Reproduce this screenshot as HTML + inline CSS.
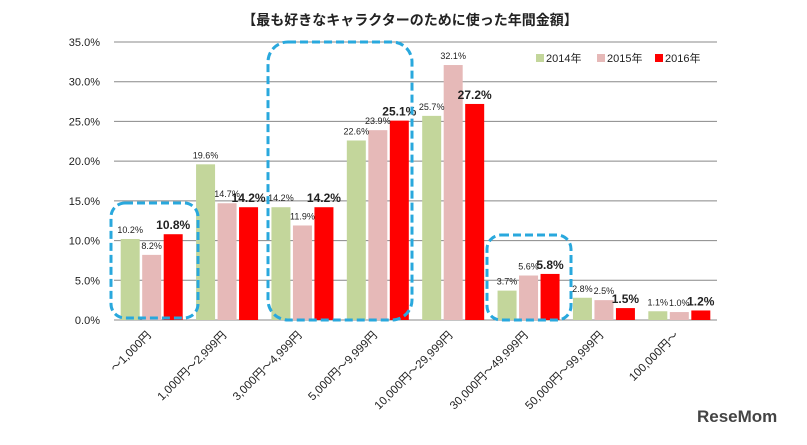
<!DOCTYPE html>
<html><head><meta charset="utf-8"><style>
body{margin:0;background:#fff;width:807px;height:440px;overflow:hidden;font-family:"Liberation Sans","Noto Sans CJK JP",sans-serif}
</style></head><body>
<svg width="807" height="440" id="c" xmlns="http://www.w3.org/2000/svg" font-family="Liberation Sans, Noto Sans CJK JP, sans-serif">
<text x="410" y="25" text-anchor="middle" font-size="14" font-weight="bold" fill="#222">【最も好きなキャラクターのために使った年間金額】</text>
<g id="grid"></g><g id="bars"></g><g id="labels"></g><g id="xl"></g>
<g font-size="11" fill="#222">
<rect x="536" y="54" width="8" height="8" fill="#c3d69b"/><text x="546" y="62">2014年</text>
<rect x="597" y="54" width="8" height="8" fill="#e6b9b8"/><text x="607" y="62">2015年</text>
<rect x="655" y="54" width="8" height="8" fill="#ff0000"/><text x="665" y="62">2016年</text>
</g>
<g fill="none" stroke="#29a8dd" stroke-width="3" stroke-dasharray="8,4">
<rect x="111" y="203" width="87" height="115" rx="14"/>
<rect x="268" y="42" width="144" height="278" rx="20"/>
<rect x="487" y="235" width="84" height="85" rx="14"/>
</g>
<text x="697" y="422" font-size="17" font-weight="bold" fill="#444">ReseMom</text>
</svg>
<script>
const categories=["～1,000円","1,000円～2,999円","3,000円～4,999円","5,000円～9,999円","10,000円～29,999円","30,000円～49,999円","50,000円～99,999円","100,000円～"];
const s2014=[10.2,19.6,14.2,22.6,25.7,3.7,2.8,1.1];
const s2015=[8.2,14.7,11.9,23.9,32.1,5.6,2.5,1.0];
const s2016=[10.8,14.2,14.2,25.1,27.2,5.8,1.5,1.2];
const yTicks=[0,5,10,15,20,25,30,35];
const NS="http://www.w3.org/2000/svg";
const x0=114,x1=717,y0=320,yTop=42,yMax=35;
const cw=(x1-x0)/categories.length;
const y=v=>y0-(v/yMax)*(y0-yTop);
function mk(t,a,p){const e=document.createElementNS(NS,t);for(const k in a)e.setAttribute(k,a[k]);document.getElementById(p).appendChild(e);return e;}
yTicks.forEach(t=>{
 const l=mk('line',{x1:x0,x2:x1,y1:y(t),y2:y(t),stroke:'#888','stroke-width':1},'grid');
 
 
 const tx=mk('text',{x:100,y:y(t)+4,'text-anchor':'end','font-size':11,fill:'#222'},'grid');
 tx.textContent=t.toFixed(1)+'%';
 
 
});
const series=[[s2014,'#c3d69b',false],[s2015,'#e6b9b8',false],[s2016,'#ff0000',true]];
const bw=19,gap=2.5;
categories.forEach((c,i)=>{
 const gx=x0+i*cw+(cw-(3*bw+2*gap))/2;
 series.forEach((s,j)=>{
  const v=s[0][i],bx=gx+j*(bw+gap);
  const r=mk('rect',{x:bx,y:y(v),width:bw,height:y0-y(v),fill:s[1]},'bars');
  
  
  const t=mk('text',{x:bx+bw/2,y:y(v)-(s[2]?5:6),'text-anchor':'middle','font-size':s[2]?12:9,'font-weight':s[2]?'bold':'normal',fill:'#222'},'labels');
  t.textContent=v.toFixed(1)+'%';
  
  
 });
 const cx=x0+i*cw+cw/2;
 const xt=mk('text',{x:cx,y:336,'text-anchor':'end','font-size':11.5,fill:'#222',transform:`rotate(-45 ${cx} 336)`},'xl');
 xt.textContent=c;
 
 
});
</script>
</body></html>
